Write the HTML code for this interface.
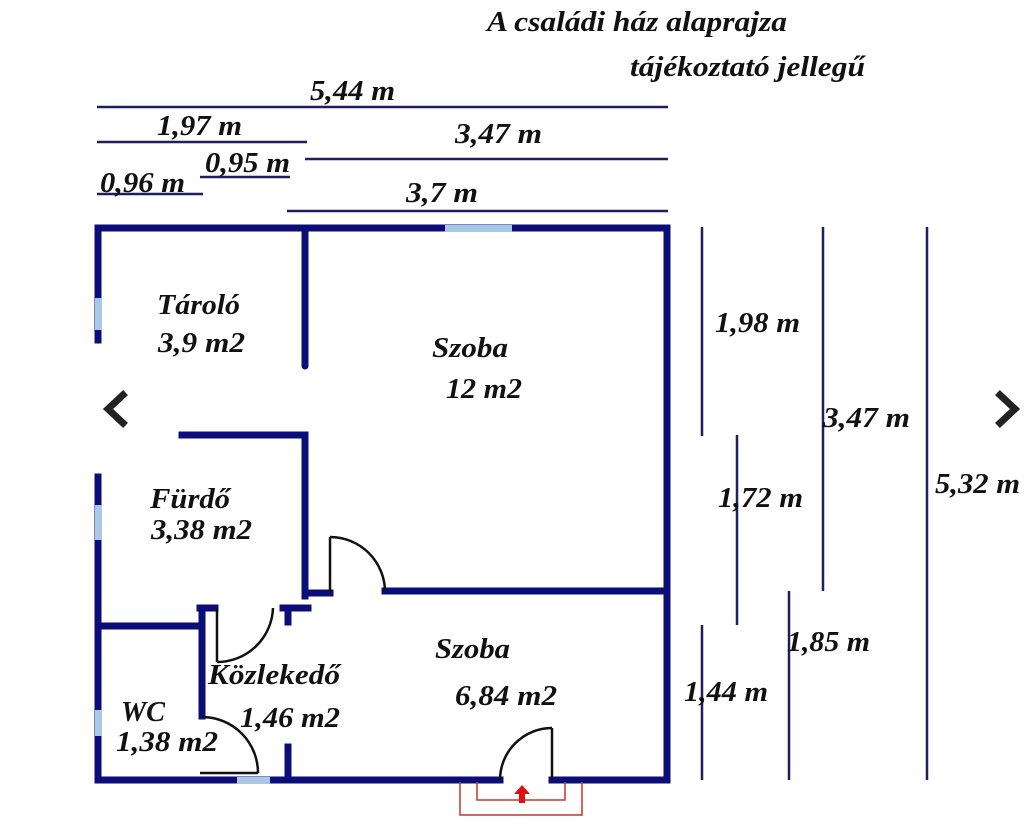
<!DOCTYPE html>
<html><head><meta charset="utf-8"><style>
html,body{margin:0;padding:0;background:#fff;}
svg{display:block;}
text{font-family:"Liberation Serif",serif;font-weight:bold;font-style:italic;fill:#111;font-size:28px;}
</style></head><body>
<svg width="1024" height="828" viewBox="0 0 1024 828" xmlns="http://www.w3.org/2000/svg">
<rect width="1024" height="828" fill="#fff"/>
<!-- title -->
<text x="487" y="31" textLength="300" lengthAdjust="spacingAndGlyphs">A családi ház alaprajza</text>
<text x="630" y="76" textLength="235" lengthAdjust="spacingAndGlyphs">tájékoztató jellegű</text>

<!-- horizontal dimensions -->
<g stroke="#1e1f5e" stroke-width="2.5" fill="none">
<line x1="97" y1="107" x2="668" y2="107"/>
<line x1="97" y1="142" x2="307" y2="142"/>
<line x1="305" y1="159" x2="668" y2="159"/>
<line x1="200" y1="177" x2="290" y2="177"/>
<line x1="97" y1="194" x2="203" y2="194"/>
<line x1="287" y1="211" x2="668" y2="211"/>
</g>
<text x="310" y="100" textLength="85" lengthAdjust="spacingAndGlyphs">5,44 m</text>
<text x="157" y="135" textLength="85" lengthAdjust="spacingAndGlyphs">1,97 m</text>
<text x="455" y="143" textLength="87" lengthAdjust="spacingAndGlyphs">3,47 m</text>
<text x="205" y="172" textLength="85" lengthAdjust="spacingAndGlyphs">0,95 m</text>
<text x="100" y="192" textLength="85" lengthAdjust="spacingAndGlyphs">0,96 m</text>
<text x="406" y="202" textLength="72" lengthAdjust="spacingAndGlyphs">3,7 m</text>

<!-- vertical dimensions -->
<g stroke="#1e1f5e" stroke-width="2.5" fill="none">
<line x1="702" y1="227" x2="702" y2="436"/>
<line x1="737" y1="435" x2="737" y2="625"/>
<line x1="823" y1="227" x2="823" y2="591"/>
<line x1="789" y1="591" x2="789" y2="780"/>
<line x1="702" y1="625" x2="702" y2="780"/>
<line x1="927" y1="227" x2="927" y2="780"/>
</g>
<text x="715" y="332" textLength="85" lengthAdjust="spacingAndGlyphs">1,98 m</text>
<text x="823" y="427" textLength="87" lengthAdjust="spacingAndGlyphs">3,47 m</text>
<text x="718" y="507" textLength="85" lengthAdjust="spacingAndGlyphs">1,72 m</text>
<text x="935" y="493" textLength="85" lengthAdjust="spacingAndGlyphs">5,32 m</text>
<text x="787" y="651" textLength="83" lengthAdjust="spacingAndGlyphs">1,85 m</text>
<text x="684" y="701" textLength="84" lengthAdjust="spacingAndGlyphs">1,44 m</text>

<!-- walls -->
<g stroke="#0b0e78" stroke-width="7" fill="none" stroke-linecap="square">
<line x1="98" y1="228" x2="667" y2="228"/>
<line x1="667" y1="228" x2="667" y2="780"/>
<line x1="98" y1="228" x2="98" y2="340"/>
<line x1="98" y1="477" x2="98" y2="780"/>
<line x1="98" y1="780" x2="500" y2="780"/>
<line x1="552" y1="780" x2="667" y2="780"/>
<line x1="305" y1="228" x2="305" y2="366" stroke-linecap="round"/>
<line x1="182" y1="435" x2="305" y2="435"/>
<line x1="305" y1="435" x2="305" y2="596"/>
<line x1="305" y1="593" x2="330" y2="593"/>
<line x1="385" y1="591" x2="667" y2="591"/>
<line x1="283" y1="608" x2="308" y2="608"/>
<line x1="288" y1="608" x2="288" y2="622"/>
<line x1="200" y1="608" x2="215" y2="608"/>
<line x1="98" y1="626" x2="200" y2="626"/>
<line x1="202" y1="608" x2="202" y2="716"/>
<line x1="288" y1="747" x2="288" y2="780"/>
</g>
<!-- windows -->
<g fill="#a9c8e6">
<rect x="445" y="225" width="67" height="7"/>
<rect x="95" y="298" width="7" height="32"/>
<rect x="95" y="505" width="7" height="35"/>
<rect x="95" y="710" width="7" height="26"/>
<rect x="237" y="777" width="33" height="7"/>
</g>
<!-- doors -->
<g stroke="#111" stroke-width="2.5" fill="none">
<line x1="330" y1="593" x2="330" y2="537"/>
<path d="M330 537 A55 55 0 0 1 385 592"/>
<line x1="217" y1="608" x2="217" y2="662"/>
<path d="M217 662 A56 56 0 0 0 273 608"/>
<line x1="200" y1="773" x2="258" y2="773"/>
<path d="M203 717 A56 56 0 0 1 258 773"/>
<line x1="552" y1="728" x2="552" y2="780"/>
<path d="M552 728 A52 52 0 0 0 500 780"/>
</g>
<!-- entrance -->
<g stroke="#c0392b" stroke-width="1.5" fill="none">
<path d="M460 782 V815 H582 V782"/>
<path d="M477 782 V800 H565 V782"/>
</g>
<path d="M522 785 L514 794 H519 V803 H525 V794 H530 Z" fill="#e01010"/>

<!-- room labels -->
<text x="157" y="314" textLength="83" lengthAdjust="spacingAndGlyphs">Tároló</text>
<text x="158" y="352" textLength="87" lengthAdjust="spacingAndGlyphs">3,9 m2</text>
<text x="432" y="357" textLength="76" lengthAdjust="spacingAndGlyphs">Szoba</text>
<text x="446" y="398" textLength="76" lengthAdjust="spacingAndGlyphs">12 m2</text>
<text x="150" y="508" textLength="80" lengthAdjust="spacingAndGlyphs">Fürdő</text>
<text x="151" y="539" textLength="101" lengthAdjust="spacingAndGlyphs">3,38 m2</text>
<text x="435" y="658" textLength="75" lengthAdjust="spacingAndGlyphs">Szoba</text>
<text x="455" y="705" textLength="102" lengthAdjust="spacingAndGlyphs">6,84 m2</text>
<text x="208" y="684" textLength="132" lengthAdjust="spacingAndGlyphs">Közlekedő</text>
<text x="240" y="727" textLength="100" lengthAdjust="spacingAndGlyphs">1,46 m2</text>
<text x="121" y="721" textLength="44" lengthAdjust="spacingAndGlyphs">WC</text>
<text x="116" y="751" textLength="102" lengthAdjust="spacingAndGlyphs">1,38 m2</text>

<!-- nav chevrons -->
<g stroke="#222" stroke-width="7" fill="none" stroke-linecap="square">
<path d="M123 395 L108 409 L123 423"/>
<path d="M1000 395 L1015 409 L1000 423"/>
</g>
</svg>
</body></html>
